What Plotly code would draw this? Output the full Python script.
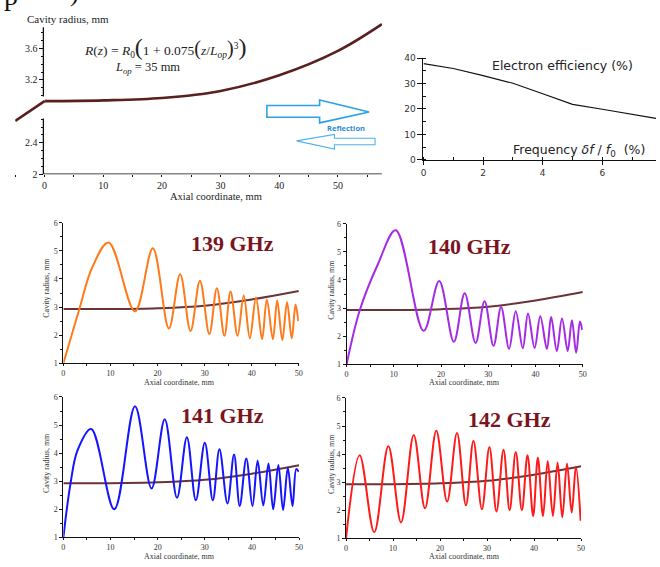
import plotly.graph_objects as go

W, H = 660, 567

# ---------------- data ----------------
# top-left: cavity profile
lead_z = [-5.0, 0.0]
lead_r = [2.68, 2.93]
prof_z = [0.0, 10.0, 20.0, 30.0, 40.0, 50.0, 57.5]
prof_r = [2.93, 2.94, 2.97, 3.06, 3.26, 3.57, 3.91]
tl_ytickvals = [2.0, 2.4, 3.2, 3.6]
tl_yticktext = ["2", "2.4", "3.2", "3.6"]
tl_yminor = [2.1, 2.2, 2.3, 2.5, 2.6, 2.7, 3.0, 3.1, 3.3, 3.4, 3.5, 3.7, 3.8]
tl_xtickvals = [0, 10, 20, 30, 40, 50]

# top-right: electron efficiency vs frequency
eff_f = [0, 1, 2, 3, 4, 5, 6, 7, 7.8]
eff_v = [37.8, 35.9, 33.1, 30.1, 26.0, 21.8, 19.9, 18.0, 16.3]

# bottom panels: cold cavity profile
cav_z = [0, 10, 20, 30, 40, 50]
cav_r = [2.93, 2.93, 2.96, 3.05, 3.27, 3.57]

# field profiles (extrema)
f139_z = [0, 3.4, 6.1, 9.6, 15.2, 19.0, 22.4, 24.8, 27.0, 29.0, 31.0, 32.6, 34.2, 35.5, 37.0,
          38.3, 39.6, 40.9, 42.2, 43.2, 44.5, 45.4, 46.5, 47.5, 48.5, 49.3, 49.9]
f139_r = [1.0, 2.93, 4.4, 5.30, 2.85, 5.09, 2.24, 4.17, 2.15, 3.94, 2.04, 3.67, 1.98, 3.55, 1.98,
          3.41, 1.89, 3.34, 1.86, 3.26, 1.86, 3.23, 1.83, 3.17, 1.89, 3.09, 2.50]

f140_z = [0, 2.8, 6.6, 10.4, 16.3, 19.6, 22.7, 25.0, 27.3, 29.2, 31.1, 32.7, 34.4, 35.8, 37.3,
          38.4, 39.8, 41.0, 42.4, 43.3, 44.5, 45.6, 46.8, 47.7, 48.6, 49.4, 49.9]
f140_r = [1.0, 2.93, 4.55, 5.77, 2.19, 3.96, 1.80, 3.53, 1.76, 3.24, 1.66, 3.04, 1.55, 2.89, 1.57,
          2.81, 1.58, 2.71, 1.55, 2.68, 1.47, 2.63, 1.47, 2.57, 1.41, 2.52, 2.22]

f141_z = [0, 1.5, 3.0, 5.9, 10.8, 15.2, 18.7, 21.5, 24.1, 26.2, 28.1, 30.0, 31.7, 33.1, 34.8,
          36.2, 37.4, 38.8, 40.1, 41.2, 42.4, 43.5, 44.5, 45.6, 46.6, 47.6, 48.6, 49.4, 49.9]
f141_r = [1.0, 2.9, 4.1, 4.86, 2.0, 5.67, 2.74, 5.21, 2.41, 4.57, 2.32, 4.37, 2.32, 4.14, 2.21,
          3.95, 2.12, 3.81, 2.12, 3.73, 2.14, 3.63, 2.0, 3.58, 1.97, 3.48, 2.12, 3.44, 3.34]

f142_z = [0, 2.9, 6.0, 9.0, 11.7, 14.4, 16.8, 19.2, 21.5, 23.6, 25.5, 27.1, 28.9, 30.5, 32.0,
          33.5, 34.8, 36.1, 37.4, 38.6, 39.8, 40.8, 41.9, 42.9, 44.0, 45.0, 46.0, 47.0, 48.0,
          48.9, 49.9]
f142_r = [1.0, 3.96, 1.22, 4.28, 1.57, 4.68, 2.07, 4.83, 2.31, 4.75, 2.18, 4.48, 2.04, 4.25, 1.96,
          4.16, 2.0, 4.08, 2.0, 3.96, 1.80, 3.87, 1.80, 3.76, 1.80, 3.70, 1.75, 3.67, 1.92,
          3.55, 1.63]

panel_labels = ["139 GHz", "140 GHz", "141 GHz", "142 GHz"]
panel_colors = ["#ff7a1a", "#a52ae6", "#1414ff", "#ff1a1a"]

# ---------------- helpers ----------------
def px(x):
    return x / W

def py(y):
    return 1 - y / H

SERIF = "Liberation Serif"
SANS = "DejaVu Sans"

fig = go.Figure()

# ---------------- top-left ----------------
tl_xr = [-5, 57.5]
tl_xd = [px(12.35), px(383)]
tl_yr = [2.0, 3.95]
tl_yd = [py(172.3), py(16.3)]
tl_yaxis_z = -0.2
tl_pos = tl_xd[0] + (tl_yaxis_z - tl_xr[0]) / (tl_xr[1] - tl_xr[0]) * (tl_xd[1] - tl_xd[0])

fig.add_trace(go.Scatter(x=lead_z, y=lead_r, mode="lines", xaxis="x", yaxis="y",
                         line=dict(color="#5a1f1f", width=2.6), hoverinfo="skip"))
fig.add_trace(go.Scatter(x=prof_z, y=prof_r, mode="lines", xaxis="x", yaxis="y",
                         line=dict(color="#5a1f1f", width=2.6, shape="spline"), hoverinfo="skip"))

# ---------------- top-right ----------------
fig.add_trace(go.Scatter(x=eff_f, y=eff_v, mode="lines", xaxis="x2", yaxis="y2",
                         line=dict(color="#111111", width=1.2), hoverinfo="skip"))

# ---------------- bottom four ----------------
series = [(f139_z, f139_r), (f140_z, f140_r), (f141_z, f141_r), (f142_z, f142_r)]
for i, (zz, rr) in enumerate(series):
    xa = "x%d" % (i + 3)
    ya = "y%d" % (i + 3)
    fig.add_trace(go.Scatter(x=cav_z, y=cav_r, mode="lines", xaxis=xa, yaxis=ya,
                             line=dict(color="#6b3434", width=2.0, shape="spline"), hoverinfo="skip"))
    fig.add_trace(go.Scatter(x=zz, y=rr, mode="lines", xaxis=xa, yaxis=ya,
                             line=dict(color=panel_colors[i], width=2.0, shape="spline", smoothing=1.0),
                             hoverinfo="skip"))

layout = dict(
    width=W, height=H, margin=dict(l=0, r=0, t=0, b=0),
    paper_bgcolor="white", plot_bgcolor="rgba(0,0,0,0)", showlegend=False,
)

layout["xaxis"] = dict(domain=tl_xd, range=tl_xr, anchor="y", showline=False, showgrid=False,
                       zeroline=False, ticks="outside", ticklen=2, tickwidth=1, tickcolor="#111",
                       tickvals=tl_xtickvals, tickfont=dict(family=SERIF, size=10, color="#222"),
                       minor=dict(dtick=5, tick0=0, ticks="outside", ticklen=2, tickcolor="#111"))
layout["yaxis"] = dict(domain=tl_yd, range=tl_yr, anchor="free", position=tl_pos, showline=False,
                       showgrid=False, zeroline=False, ticks="outside", ticklen=4, tickwidth=1,
                       tickcolor="#111", tickvals=tl_ytickvals, ticktext=tl_yticktext,
                       tickfont=dict(family=SERIF, size=10, color="#222"),
                       minor=dict(tickvals=tl_yminor, ticks="outside", ticklen=2, tickcolor="#111"))

layout["xaxis2"] = dict(domain=[px(425), 1.0], range=[0, 7.8], anchor="y2", showline=True,
                        linecolor="#111", linewidth=1, showgrid=False, zeroline=False,
                        ticks="outside", ticklen=4, tickcolor="#111", dtick=2, tick0=0,
                        tickfont=dict(family=SANS, size=9, color="#333"),
                        minor=dict(dtick=1, ticks="inside", ticklen=3, tickcolor="#111"))
layout["yaxis2"] = dict(domain=[py(157.7), py(54)], range=[0, 40], anchor="x2", showline=True,
                        linecolor="#111", linewidth=1, showgrid=False, zeroline=False,
                        ticks="outside", ticklen=5, tickcolor="#111", dtick=10, tick0=0,
                        tickfont=dict(family=SANS, size=9, color="#333"),
                        minor=dict(dtick=5, ticks="inside", ticklen=3, tickcolor="#111"))

bot_dom = [
    ([px(61), px(299)], [py(364.7), py(221.7)]),
    ([px(347.3), px(586)], [py(365.7), py(222.7)]),
    ([px(61), px(299.3)], [py(542), py(399)]),
    ([px(346.7), px(584.3)], [py(543), py(400)]),
]
for i, (xd, yd) in enumerate(bot_dom):
    n = i + 3
    layout["xaxis%d" % n] = dict(domain=xd, range=[0, 50], anchor="y%d" % n, showline=True,
                                 linecolor="#111", linewidth=1, showgrid=False, zeroline=False,
                                 ticks="outside", ticklen=2, tickcolor="#111", dtick=10, tick0=0,
                                 tickfont=dict(family=SERIF, size=8, color="#333"),
                                 minor=dict(dtick=5, ticks="outside", ticklen=2, tickcolor="#111"))
    layout["yaxis%d" % n] = dict(domain=yd, range=[1, 6], anchor="x%d" % n, showline=True,
                                 linecolor="#111", linewidth=1, showgrid=False, zeroline=False,
                                 ticks="outside", ticklen=3, tickcolor="#111", dtick=1, tick0=0,
                                 tickfont=dict(family=SERIF, size=8, color="#333"),
                                 minor=dict(dtick=0.5, ticks="outside", ticklen=2, tickcolor="#111"))

fig.update_layout(**layout)

# ---------------- shapes ----------------
shapes = []
# top-left axis lines (broken y axis)
shapes.append(dict(type="line", xref="x", yref="y", x0=tl_yaxis_z, x1=57.5, y0=2.0, y1=2.0,
                   line=dict(color="#111", width=1.3)))
shapes.append(dict(type="line", xref="x", yref="y", x0=tl_yaxis_z, x1=tl_yaxis_z, y0=2.0, y1=2.71,
                   line=dict(color="#111", width=1.3)))
shapes.append(dict(type="line", xref="x", yref="y", x0=tl_yaxis_z, x1=tl_yaxis_z, y0=2.99, y1=3.87,
                   line=dict(color="#111", width=1.3)))

def path(pts):
    s = "M %.5f %.5f " % (px(pts[0][0]), py(pts[0][1]))
    for (a, b) in pts[1:]:
        s += "L %.5f %.5f " % (px(a), py(b))
    return s + "Z"

right_arrow = [(266.7, 102.3), (320, 102.3), (320, 96.7), (370, 109), (320, 120), (320, 114.3), (266.7, 114.3)]
left_arrow = [(296.7, 138.3), (335, 131.7), (335, 135.7), (376, 135.7), (376, 142.3), (335, 142.3), (335, 146.7)]
shapes.append(dict(type="path", xref="paper", yref="paper", path=path(right_arrow),
                   line=dict(color="#2aa2e6", width=1.6), fillcolor="rgba(0,0,0,0)"))
shapes.append(dict(type="path", xref="paper", yref="paper", path=path(left_arrow),
                   line=dict(color="#4db3ee", width=1.1), fillcolor="rgba(0,0,0,0)"))
fig.update_layout(shapes=shapes)

# ---------------- annotations ----------------
ann = []

def text(x, y, t, size, family=SERIF, color="#222", xanchor="center", angle=0, bold=False):
    if bold:
        t = "<b>" + t + "</b>"
    ann.append(dict(x=px(x), y=py(y), xref="paper", yref="paper", text=t, showarrow=False,
                    xanchor=xanchor, yanchor="middle", textangle=angle,
                    font=dict(family=family, size=size, color=color)))

# cut-off caption glyphs at the very top
text(8, -10, "p", 28, color="#111")
text(72, -13, ")", 26, color="#111")

# top-left texts
text(66, 14, "Cavity radius, mm", 11)
text(215, 195, "Axial coordinate, mm", 10.5)
eq = ("<i>R</i>(<i>z</i>) = <i>R</i><sub>0</sub><span style='font-size:24px'>(</span>1 + 0.075"
      "<span style='font-size:20px'>(</span><i>z</i>/<i>L</i><sub><i>op</i></sub>"
      "<span style='font-size:20px'>)</span><sup>3</sup><span style='font-size:24px'>)</span>")
text(164, 43, eq, 13.5)
text(146.5, 64, "<i>L</i><sub><i>op</i></sub> = 35 mm", 12.5)
text(347, 125.7, "Reflection", 7.5, family="Open Sans", color="#2a8ad6", bold=True)

# top-right texts
text(565, 61.7, "Electron efficiency (%)", 12.5, family=SANS, color="#222")
text(513, 148, "Frequency <i>\u03b4f</i> / <i>f</i><sub>0</sub>  (%)", 12.5, family=SANS,
     color="#222", xanchor="left")

# bottom panels
xt_pos = [(178, 384), (466.7, 384), (178, 561), (466, 561)]
yt_pos = [(44, 288.3), (332.5, 290), (44, 466.7), (332, 466.7)]
lab_pos = [(231.7, 242.7), (471.7, 246), (221.7, 418.3), (511.7, 421.7)]
for i in range(4):
    text(xt_pos[i][0], xt_pos[i][1], "Axial coordinate, mm", 8, color="#333")
    text(yt_pos[i][0], yt_pos[i][1], "Cavity radius, mm", 8, color="#333", angle=-90)
    text(lab_pos[i][0], lab_pos[i][1], panel_labels[i], 22, color="#7a1420", bold=True)

fig.update_layout(annotations=ann)

fig.write_html("out.html", config={"displayModeBar": False},
               post_script="document.body.style.margin='0px';document.body.style.overflow='hidden';")
